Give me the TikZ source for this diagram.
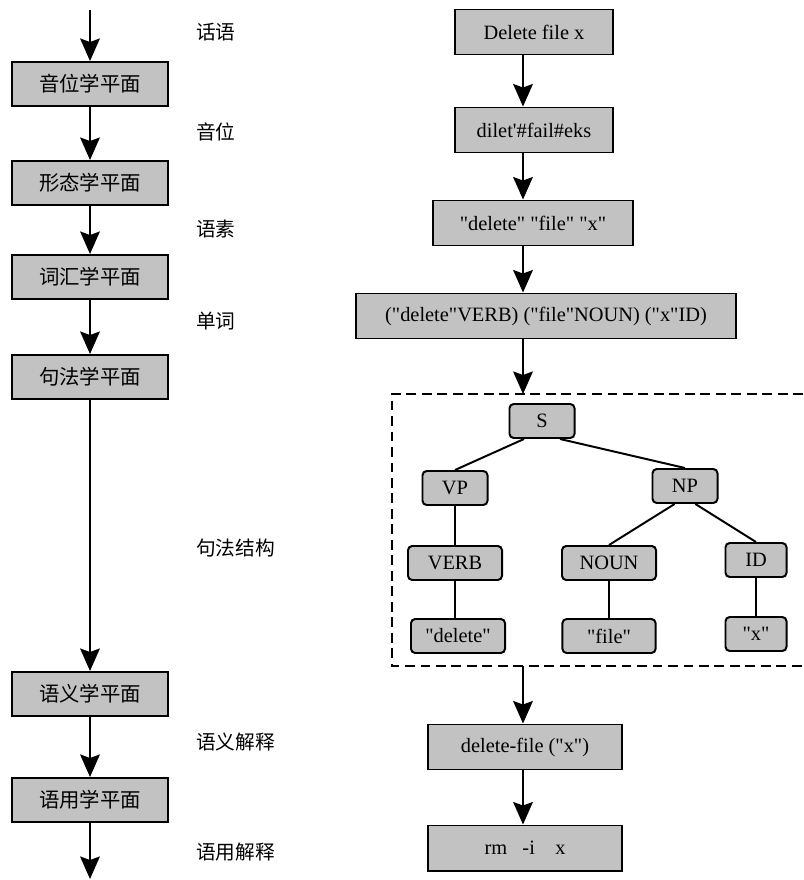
\documentclass[tikz,border=0pt]{standalone}
\usepackage{fontspec}
\setmainfont{Liberation Serif}[Ligatures=TeXOff]
\newfontfamily\cjk{Noto Sans CJK SC}
\usetikzlibrary{arrows.meta}
\definecolor{boxgray}{gray}{0.76}

\tikzset{
    plane/.style={draw, line width=1.4pt, fill=boxgray, minimum width=3.9cm, minimum height=1.1cm, inner sep=0pt, font=\cjk\fontsize{14.5}{17}\selectfont},
    form/.style={draw, line width=1.4pt, fill=boxgray, minimum height=1.125cm, inner sep=0pt, font=\fontsize{14.5}{17}\selectfont},
    leaf/.style={draw, line width=1.4pt, fill=boxgray, rounded corners=3pt, minimum height=0.85cm, inner sep=0pt, font=\fontsize{14.5}{17}\selectfont},
    level/.style={anchor=west, inner sep=0pt, font=\cjk\fontsize{14}{17}\selectfont},
    flow/.style={line width=1.5pt, -{Stealth[length=16pt, width=14pt, inset=2.5pt]}},
    branch/.style={line width=1.4pt},
}

\begin{document}
\begin{tikzpicture}[x=0.025cm, y=-0.025cm]
    \useasboundingbox (0,0) rectangle (803,880);
    % left column: the planes
    \coordinate (start) at (90,10);
    \node[plane] (pho) at (90,84) {音位学平面};
    \node[plane] (mor) at (90,183) {形态学平面};
    \node[plane] (lex) at (90,277) {词汇学平面};
    \node[plane] (syn) at (90,377) {句法学平面};
    \node[plane] (sem) at (90,694) {语义学平面};
    \node[plane] (pra) at (90,800) {语用学平面};
    \coordinate (finish) at (90,879);
    \draw[flow] (start) -- (pho);
    \draw[flow] (pho) -- (mor);
    \draw[flow] (mor) -- (lex);
    \draw[flow] (lex) -- (syn);
    \draw[flow] (syn) -- (sem);
    \draw[flow] (sem) -- (pra);
    \draw[flow] (pra) -- (finish);
    % middle column: what passes between planes
    \node[level] (utterance) at (196,32) {话语};
    \node[level] (phoneme) at (196,132) {音位};
    \node[level] (morpheme) at (196,229) {语素};
    \node[level] (word) at (196,321) {单词};
    \node[level] (structure) at (196,548) {句法结构};
    \node[level] (semint) at (196,742) {语义解释};
    \node[level] (praint) at (196,852) {语用解释};
    % right column: the example
    \coordinate (axis) at (523,0);
    \node[form, minimum width=3.95cm] (sentence) at (534,32) {Delete file x};
    \node[form, minimum width=3.93cm] (sounds) at (534,130) {dilet'\#fail\#eks};
    \node[form, minimum width=5cm] (morphs) at (533,223) {"delete" "file" "x"};
    \node[form, minimum width=9.5cm] (tokens) at (546,316) {("delete"VERB) ("file"NOUN) ("x"ID)};
    \draw[flow] (sentence.south -| axis) -- (sounds.north -| axis);
    \draw[flow] (sounds.south -| axis) -- (morphs.north -| axis);
    \draw[flow] (morphs.south -| axis) -- (tokens.north -| axis);
    % parse tree in a dashed frame
    \coordinate (frametop) at (523,394);
    \coordinate (framebot) at (523,666);
    \draw[line width=1.3pt, dash pattern=on 7pt off 4pt] (803,394) -- (392,394) -- (392,666) -- (803,666);
    \draw[flow] (tokens.south -| axis) -- (frametop);
    \node[leaf, minimum width=1.625cm] (S) at (542,421) {S};
    \node[leaf, minimum width=1.625cm] (VP) at (455,488) {VP};
    \node[leaf, minimum width=1.625cm] (NP) at (685,486) {NP};
    \node[leaf, minimum width=2.35cm] (verb) at (455,563) {VERB};
    \node[leaf, minimum width=2.35cm] (noun) at (609,563) {NOUN};
    \node[leaf, minimum width=1.525cm] (id) at (756,560) {ID};
    \node[leaf, minimum width=2.35cm] (wdelete) at (458,636) {"delete"};
    \node[leaf, minimum width=2.33cm] (wfile) at (609,636) {"file"};
    \node[leaf, minimum width=1.525cm] (wx) at (756,634) {"x"};
    \draw[branch] (S.-135) -- (VP.north);
    \draw[branch] (S.-45) -- (NP.north);
    \draw[branch] (VP) -- (verb);
    \draw[branch] (NP.-120) -- (noun.north);
    \draw[branch] (NP.-60) -- (id.north);
    \draw[branch] (verb.south -| VP) -- (wdelete.north -| VP);
    \draw[branch] (noun) -- (wfile);
    \draw[branch] (id) -- (wx);
    % after the tree
    \node[form, minimum width=4.85cm] (meaning) at (525,747) {delete-file ("x")};
    \node[form, minimum width=4.85cm] (command) at (525,848) {rm\ \ \ -i\ \ \ \ x};
    \draw[flow] (framebot) -- (meaning.north -| axis);
    \draw[flow] (meaning.south -| axis) -- (command.north -| axis);
\end{tikzpicture}
\end{document}
